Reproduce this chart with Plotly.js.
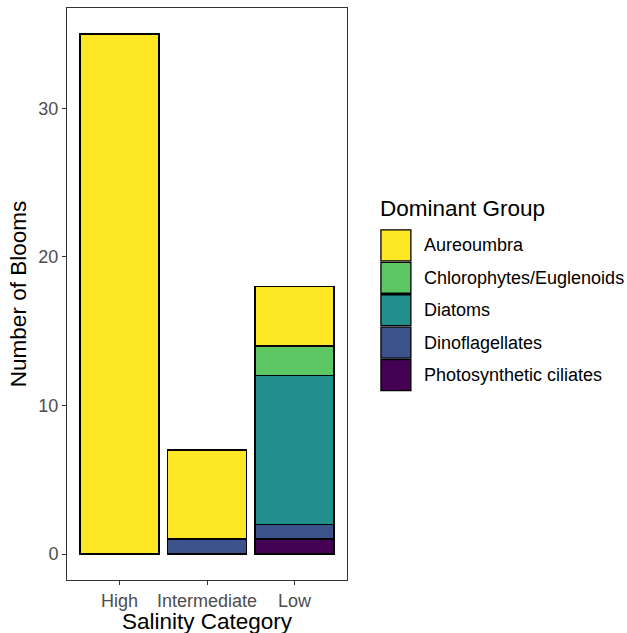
<!DOCTYPE html>
<html>
<head>
<meta charset="utf-8">
<script src="https://cdn.plot.ly/plotly-3.0.1.min.js"></script>
<style>
  html, body { margin: 0; padding: 0; background: #ffffff; }
  #chart { width: 627px; height: 633px; }
</style>
</head>
<body>
<div id="chart"></div>
<script>
// Salinity categories on the x axis
const categories = ['High', 'Intermediate', 'Low'];

// Blooms per dominant group (null = none in that category), stacked bottom-up
const photosyntheticCiliates = [null, null, 1];
const dinoflagellates = [null, 1, 1];
const diatoms = [null, null, 10];
const chlorophytesEuglenoids = [null, null, 2];
const aureoumbra = [35, 6, 4];

const groupNames = ['Photosynthetic ciliates', 'Dinoflagellates', 'Diatoms',
                    'Chlorophytes/Euglenoids', 'Aureoumbra'];
const groupValues = [photosyntheticCiliates, dinoflagellates, diatoms,
                     chlorophytesEuglenoids, aureoumbra];
const groupColors = ['#440154', '#3B528B', '#21908C', '#5DC863', '#FDE725'];

const yTicks = [0, 10, 20, 30];

// Panel geometry in pixels
const W = 627, H = 633;
const panel = { left: 66.5, right: 347, top: 7.5, bottom: 580 };
const px2x = px => (px - panel.left) / (panel.right - panel.left);
const px2y = py => (panel.bottom - py) / (panel.bottom - panel.top);

const FONT = 'Liberation Sans, Arial, sans-serif';
const TITLE_SIZE = 22.5;
const TEXT_SIZE = 18;

const traces = groupNames.map((name, i) => ({
  type: 'bar',
  name: name,
  x: categories,
  y: groupValues[i],
  marker: { color: groupColors[i], line: { color: '#000000', width: 1.3 } },
  showlegend: false,
  hoverinfo: 'x+y+name'
}));

// Legend drawn as keys and labels, top entry = top of the stack
const shapes = [];
const annotations = [];
const keyLeft = 381, keyRight = 411, keyTop0 = 229.5, keyH = 31, keyStep = 32.5;
const legendOrder = groupNames.map((n, i) => i).reverse();
legendOrder.forEach((gi, row) => {
  const top = keyTop0 + row * keyStep;
  shapes.push({
    type: 'rect', xref: 'paper', yref: 'paper',
    x0: px2x(keyLeft), x1: px2x(keyRight),
    y0: px2y(top + keyH), y1: px2y(top),
    fillcolor: groupColors[gi],
    line: { color: '#000000', width: 1.3 }
  });
  annotations.push({
    xref: 'paper', yref: 'paper',
    x: px2x(422), y: px2y(top + keyH / 2),
    xanchor: 'left', yanchor: 'middle',
    text: groupNames[gi], showarrow: false,
    font: { family: FONT, size: TEXT_SIZE, color: '#000000' }
  });
});
annotations.push({
  xref: 'paper', yref: 'paper',
  x: px2x(378.5), y: px2y(208),
  xanchor: 'left', yanchor: 'middle',
  text: 'Dominant Group', showarrow: false,
  font: { family: FONT, size: TITLE_SIZE, color: '#000000' }
});
// x-axis title, centred under the panel
annotations.push({
  xref: 'paper', yref: 'paper',
  x: 0.5, y: px2y(621.5),
  xanchor: 'center', yanchor: 'middle',
  text: 'Salinity Category', showarrow: false,
  font: { family: FONT, size: TITLE_SIZE, color: '#000000' }
});

const layout = {
  width: W, height: H,
  margin: { l: panel.left, r: W - panel.right, t: panel.top, b: H - panel.bottom, pad: 0 },
  paper_bgcolor: '#ffffff',
  plot_bgcolor: '#ffffff',
  barmode: 'stack',
  bargap: 0.1,
  showlegend: false,
  font: { family: FONT },
  xaxis: {
    type: 'category',
    categoryorder: 'array',
    categoryarray: categories,
    range: [-0.6, 2.6],
    showgrid: false, zeroline: false,
    showline: true, mirror: true, linecolor: '#333333', linewidth: 1,
    ticks: 'outside', ticklen: 4, tickwidth: 1, tickcolor: '#333333',
    tickfont: { family: FONT, size: TEXT_SIZE, color: '#4D4D4D' }
  },
  yaxis: {
    range: [-1.75, 36.75],
    tickvals: yTicks,
    ticktext: yTicks.map(String),
    showgrid: false, zeroline: false,
    showline: true, mirror: true, linecolor: '#333333', linewidth: 1,
    ticks: 'outside', ticklen: 4, tickwidth: 1, tickcolor: '#333333',
    tickfont: { family: FONT, size: TEXT_SIZE, color: '#4D4D4D' },
    title: { text: 'Number of Blooms', font: { family: FONT, size: TITLE_SIZE, color: '#000000' }, standoff: 5 }
  },
  shapes: shapes,
  annotations: annotations
};

Plotly.newPlot('chart', traces, layout, { staticPlot: true, displayModeBar: false });
</script>
</body>
</html>
